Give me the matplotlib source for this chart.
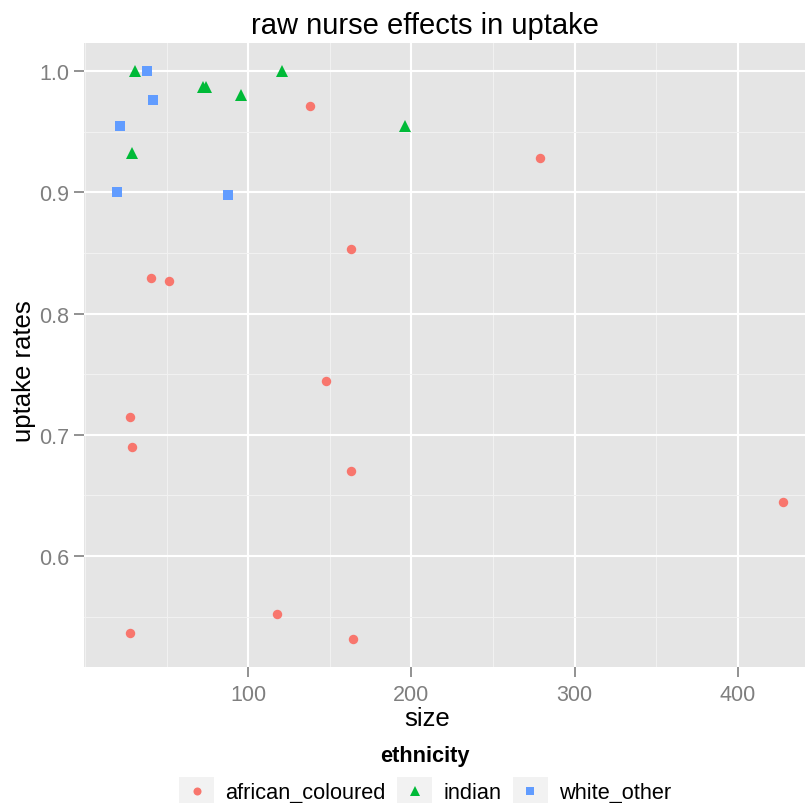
import matplotlib
matplotlib.use('Agg')
import matplotlib.pyplot as plt
from matplotlib.patches import Rectangle
from matplotlib.lines import Line2D

plt.rcParams['font.family'] = ['Liberation Sans', 'DejaVu Sans']

# values
groups = ['african_coloured', 'indian', 'white_other']
colors = ['#F8766D', '#00BA38', '#619CFF']
markers = ['o', '^', 's']
msizes = [6.8, 8.6, 7.2]

size_af = [137.8, 278.6, 162.9, 40.6, 51.6, 147.8, 27.6, 28.6, 162.9, 427.4, 117.8, 27.6, 163.9]
rate_af = [0.971, 0.928, 0.853, 0.8296, 0.8271, 0.744, 0.715, 0.690, 0.670, 0.645, 0.552, 0.537, 0.532]
size_in = [30.6, 120.6, 72.1, 74.1, 95.7, 196.0, 28.6]
rate_in = [1.0, 1.0, 0.987, 0.987, 0.980, 0.955, 0.932]
size_wh = [38.0, 41.6, 21.4, 19.6, 87.6]
rate_wh = [1.0, 0.976, 0.955, 0.9005, 0.898]

xs = [size_af, size_in, size_wh]
ys = [rate_af, rate_in, rate_wh]

x_ticks = [100, 200, 300, 400]
x_minor = [0, 50, 150, 250, 350]
y_ticks = [0.6, 0.7, 0.8, 0.9, 1.0]
y_minor = [0.55, 0.65, 0.75, 0.85, 0.95]


class KeyHandler:
    # ggplot style legend key: light grey box with the marker in the middle
    def legend_artist(self, legend, orig_handle, fontsize, handlebox):
        x0, y0 = handlebox.xdescent, handlebox.ydescent
        w, h = handlebox.width, handlebox.height
        tr = handlebox.get_transform()
        rect = Rectangle((-x0, -y0), w, h, facecolor='#F2F2F2', edgecolor='none',
                         transform=tr)
        handlebox.add_artist(rect)
        mk = Line2D([-x0 + w / 2], [-y0 + h / 2], linestyle='none',
                    marker=orig_handle.get_marker(),
                    markersize=orig_handle.get_markersize(),
                    color=orig_handle.get_color(), markeredgewidth=0, transform=tr)
        handlebox.add_artist(mk)
        return rect


W, H = 805, 804
fig = plt.figure(figsize=(W / 100, H / 100), dpi=100)
# panel in pixel coords: left 83.7, right 816 (runs off the image), top 43.6, bottom 668
ax = fig.add_axes([83.7 / W, (H - 668) / H, (816 - 83.7) / W, (668 - 43.6) / H])
ax.set_facecolor('#E5E5E5')
for s in ax.spines.values():
    s.set_visible(False)

handles = []
for g, c, m, ms, x, y in zip(groups, colors, markers, msizes, xs, ys):
    ax.plot(x, y, linestyle='none', marker=m, markersize=ms, color=c,
            markeredgewidth=0, zorder=3)
    handles.append(Line2D([], [], linestyle='none', marker=m, markersize=ms * 0.85,
                          color=c))

allx = size_af + size_in + size_wh
ally = rate_af + rate_in + rate_wh
rx = max(allx) - min(allx)
ry = max(ally) - min(ally)
ax.set_xlim(min(allx) - 0.05 * rx, max(allx) + 0.05 * rx)
ax.set_ylim(min(ally) - 0.05 * ry, max(ally) + 0.05 * ry)

ax.set_xticks(x_ticks)
ax.set_xticks(x_minor, minor=True)
ax.set_yticks(y_ticks)
ax.set_yticks(y_minor, minor=True)
ax.set_xticklabels([str(v) for v in x_ticks])
ax.set_yticklabels(['%.1f' % v for v in y_ticks])
ax.grid(which='major', color='white', linewidth=1.5)
ax.grid(which='minor', color='#F2F2F2', linewidth=0.7)
ax.set_axisbelow(True)
ax.tick_params(which='minor', length=0)
ax.tick_params(axis='both', which='major', length=7, width=1.2, color='#7F7F7F',
               labelcolor='#7F7F7F', labelsize=15.5)
ax.tick_params(axis='x', pad=5)
ax.tick_params(axis='y', pad=3.6)

fig.text(425 / W, 1 - 26 / H, 'raw nurse effects in uptake', ha='center', va='center',
         fontsize=21)
fig.text(427 / W, 1 - 719 / H, 'size', ha='center', va='center', fontsize=18.5)
fig.text(24 / W, 1 - 371 / H, 'uptake rates', ha='center', va='center',
         rotation=90, fontsize=18.5)

leg = fig.legend(handles, groups, handler_map={Line2D: KeyHandler()},
                 loc='upper center', bbox_to_anchor=(425 / W, 1 - 746 / H),
                 ncol=3, frameon=False, fontsize=15.7, title='ethnicity',
                 title_fontproperties={'weight': 'bold', 'size': 15.7},
                 handlelength=1.6, handleheight=1.6, handletextpad=0.5,
                 columnspacing=0.55, borderpad=0, borderaxespad=0)

fig.savefig('out.png', dpi=100)
